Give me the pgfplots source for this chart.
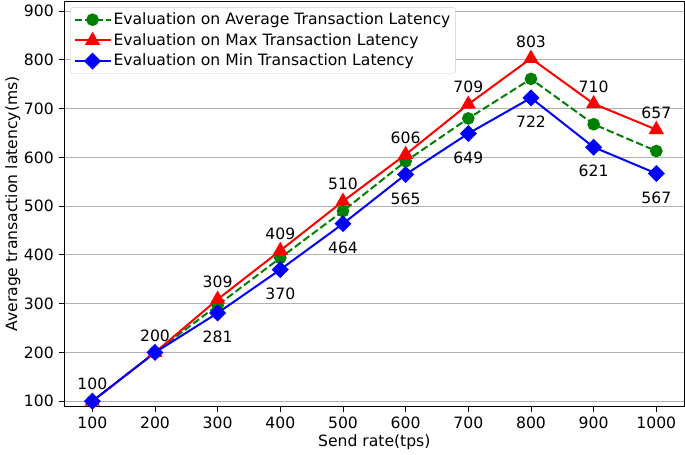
\documentclass[border=0pt]{standalone}
\usepackage{fontspec}
\setmainfont{DejaVu Sans}
\usepackage{pgfplots}
\pgfplotsset{compat=1.18}
\definecolor{mgreen}{RGB}{0,128,0}
\begin{document}
\fontsize{15.6}{18}\selectfont
\begin{tikzpicture}
\begin{axis}[
  scale only axis,
  width=620pt, height=405pt,
  xmin=55, xmax=1045, ymin=89, ymax=920,
  xtick={100,200,...,1000},
  ytick={100,200,...,900},
  /pgf/number format/assume math mode=true,
  /pgf/number format/1000 sep={},
  tick label style={font=\fontsize{15.6}{18}\selectfont},
  label style={font=\fontsize{15.6}{18}\selectfont},
  xlabel={Send rate(tps)},
  ylabel={Average transaction latency(ms)},
  xlabel style={yshift=5pt},
  ylabel style={yshift=-7pt},
  ymajorgrids,
  grid style={color=black!30, line width=0.9pt},
  axis line style={line width=1pt},
  tick align=outside,
  xtick pos=bottom, ytick pos=left,
  major tick length=5pt,
  tick style={black, line width=0.9pt},
  clip=false,
  legend style={at={(0.01,0.985)}, anchor=north west, draw=black!20, rounded corners=2pt,
    font=\fontsize{15.6}{18}\selectfont, row sep=2.5pt, inner sep=3pt},
  legend cell align=left,
  legend image code/.code={\draw[mark repeat=2,mark phase=2] plot coordinates {(0pt,0pt)(18pt,0pt)(36pt,0pt)};},
]
\addplot[color=mgreen, line width=2pt, dash pattern=on 7.4pt off 3.2pt, mark=*, mark size=5.3pt, mark options={solid}]
coordinates {(100,100)(200,200)(300,297)(400,394)(500,490)(600,592)(700,680)(800,761)(900,668)(1000,613)};
\addlegendentry{Evaluation on Average Transaction Latency}
\addplot[color=red, line width=2pt, mark=triangle*, mark size=6.8pt,
  nodes near coords, point meta=explicit symbolic,
  every node near coord/.style={anchor=center, yshift=17pt, color=black, font=\fontsize{15.6}{18}\selectfont}]
coordinates {(100,100)[100] (200,200)[200] (300,309)[309] (400,409)[409] (500,510)[510] (600,606)[606] (700,709)[709] (800,803)[803] (900,710)[710] (1000,657)[657]};
\addlegendentry{Evaluation on Max Transaction Latency}
\addplot[color=blue, line width=2pt, mark=square*, mark size=5pt, mark options={rotate=45}]
coordinates {(100,100)(200,200)(300,281)(400,370)(500,464)(600,565)(700,649)(800,722)(900,621)(1000,567)};
\addlegendentry{Evaluation on Min Transaction Latency}
\addplot[draw=none, mark=none, forget plot,
  nodes near coords, point meta=explicit symbolic,
  every node near coord/.style={anchor=center, yshift=-24pt, color=black, font=\fontsize{15.6}{18}\selectfont}]
coordinates {(300,281)[281] (400,370)[370] (500,464)[464] (600,565)[565] (700,649)[649] (800,722)[722] (900,621)[621] (1000,567)[567]};
\end{axis}
\end{tikzpicture}
\end{document}
